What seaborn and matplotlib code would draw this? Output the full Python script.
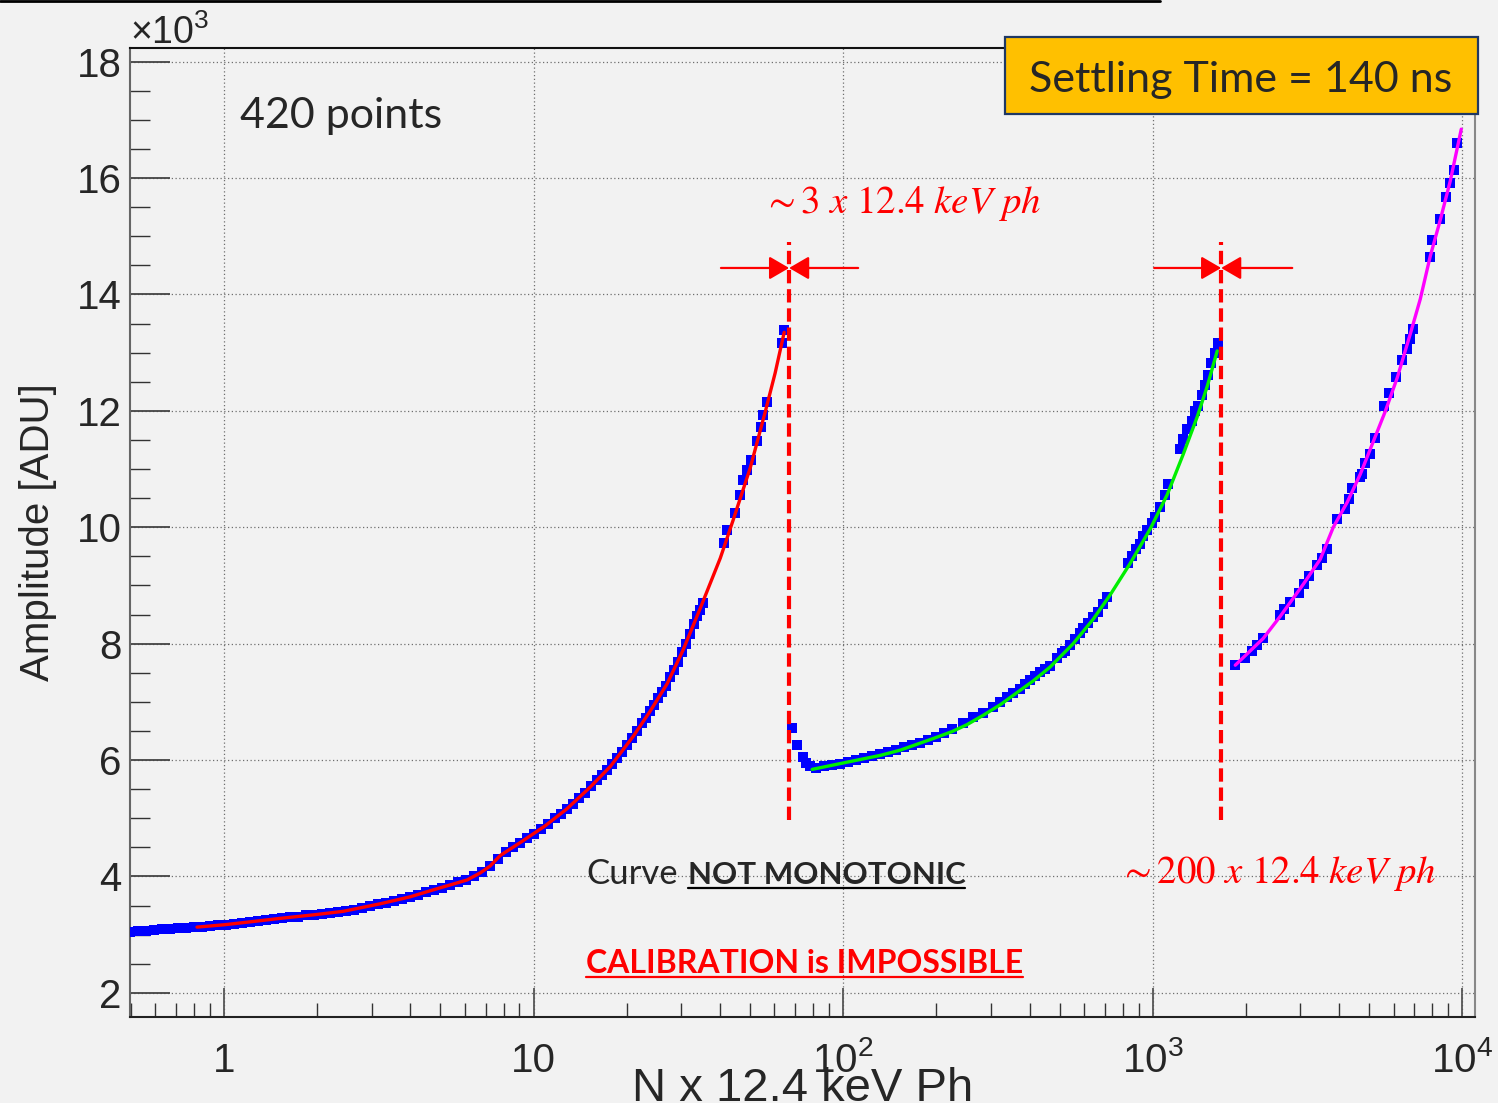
import matplotlib
matplotlib.use("Agg")
import matplotlib.pyplot as plt
from matplotlib.lines import Line2D
from matplotlib.patches import Rectangle
from matplotlib.ticker import (FixedLocator, FixedFormatter, LogLocator,
                               MultipleLocator, NullFormatter, FuncFormatter)
import pandas as pd
import seaborn as sns

sns.set_style("ticks")
plt.rcParams["font.family"] = ["Liberation Sans", "DejaVu Sans"]
plt.rcParams["mathtext.fontset"] = "custom"
plt.rcParams["mathtext.rm"] = "Liberation Sans"
plt.rcParams["mathtext.it"] = "Liberation Sans:italic"
plt.rcParams["mathtext.bf"] = "Liberation Sans:bold"

BG = "#f2f2f2"

# ---- measured points: photons (N x 12.4 keV) vs amplitude (ADU) ----
n_low = [0.497, 0.527, 0.560, 0.594, 0.630, 0.669, 0.710, 0.754, 0.800, 0.849,
         0.901, 0.956, 1.015, 1.077, 1.143, 1.213, 1.288, 1.367, 1.450, 1.539,
         1.634, 1.734, 1.840, 1.953, 2.073, 2.200, 2.335, 2.478, 2.630, 2.791,
         2.962, 3.144, 3.337, 3.541, 3.758, 3.989, 4.233, 4.493, 4.768, 5.061,
         5.371, 5.700, 6.050, 6.420, 6.814, 7.232, 7.675,
         8.15, 8.59, 9.04, 9.53, 10.04, 10.57, 11.14, 11.73, 12.27, 12.83,
         13.41, 14.03, 14.67, 15.34, 16.04, 16.65, 17.28, 17.93, 18.61, 19.32,
         20.05, 20.81, 21.60, 22.42, 23.10, 23.79, 24.51, 25.26, 26.02, 26.81,
         27.61, 28.44, 29.31, 30.19, 31.10, 32.04, 33.01, 33.75, 34.51, 35.29,
         41.26, 42.19, 44.78, 46.48, 47.53, 48.96, 50.44, 52.74, 54.34, 55.15,
         56.82, 63.53, 64.48]
adu_low = [3050, 3060, 3070, 3080, 3090, 3100, 3110, 3120, 3130, 3140,
           3150, 3160, 3170, 3190, 3200, 3220, 3230, 3250, 3270, 3280,
           3300, 3310, 3330, 3340, 3360, 3370, 3390, 3410, 3430, 3460,
           3490, 3520, 3550, 3580, 3620, 3650, 3690, 3730, 3770, 3810,
           3860, 3900, 3940, 4000, 4080, 4180, 4300,
           4420, 4500, 4580, 4660, 4730, 4820, 4910, 5000, 5080, 5160,
           5250, 5350, 5440, 5550, 5650, 5740, 5830, 5930, 6030, 6140,
           6260, 6380, 6500, 6630, 6730, 6840, 6950, 7060, 7170, 7280,
           7420, 7550, 7690, 7850, 8000, 8170, 8330, 8470, 8580, 8700,
           9730, 9950, 10240, 10550, 10810, 10980, 11160, 11480, 11720, 11930,
           12150, 13170, 13390]

n_mid = [68.4, 71.0, 74.3, 75.9, 78.2, 81.8, 86.8, 92.2, 97.8, 103.8,
         110.2, 116.9, 124.1, 131.7, 139.8, 148.4, 157.4, 167.1, 177.4, 188.2,
         199.8, 212.0, 225.0, 244.2, 263.0, 283.5, 305.3, 321.6, 338.8, 354.2,
         373.2, 387.3, 401.9, 417.2, 433.0, 449.4, 466.6, 491.5, 510.2, 521.7,
         541.4, 561.9, 583.3, 596.4, 618.9, 642.4, 666.7, 692.1, 712.9, 833.4,
         858.6, 884.6, 911.3, 931.8, 960.0, 996.3, 1018.8, 1057.3, 1097.5, 1122.2,
         1227, 1254, 1293, 1342, 1372, 1403, 1445, 1478, 1511, 1545,
         1592, 1628]
adu_mid = [6550, 6260, 6060, 5950, 5900, 5870, 5890, 5910, 5940, 5970,
           6000, 6040, 6070, 6100, 6140, 6180, 6220, 6260, 6300, 6350,
           6400, 6470, 6530, 6640, 6740, 6810, 6910, 7000, 7080, 7150,
           7220, 7300, 7380, 7450, 7520, 7570, 7620, 7750, 7840, 7880,
           7980, 8080, 8190, 8270, 8360, 8460, 8550, 8690, 8800, 9380,
           9500, 9620, 9720, 9850, 9950, 10070, 10180, 10350, 10560, 10740,
           11340, 11520, 11680, 11830, 12000, 12080, 12270, 12450, 12620, 12820,
           12990, 13170]

n_high = [1848, 1990, 2092, 2171, 2270, 2582, 2646, 2781, 2959, 3071,
          3187, 3393, 3522, 3655, 3937, 4188, 4291, 4401, 4682, 4742,
          4860, 5044, 5235, 5568, 5780, 6120, 6386, 6627, 6792, 6929,
          7842, 7984, 8491, 8878, 9100, 9374, 9613]
adu_high = [7640, 7760, 7880, 7980, 8090, 8500, 8590, 8710, 8870, 9020,
            9170, 9360, 9480, 9630, 10140, 10310, 10490, 10670, 10860, 10920,
            11110, 11260, 11540, 12090, 12300, 12580, 12870, 13070, 13240, 13410,
            14650, 14940, 15290, 15680, 15920, 16140, 16600]

# ---- fitted response of each gain range ----
fit_low_n = [0.818, 1.0, 1.213, 1.517, 1.94, 2.42, 3.19, 3.99, 4.74, 5.58,
             6.10, 6.72, 7.24, 7.80, 9.04, 10.9, 12.8, 15.2, 17.7, 21.0,
             23.8, 27.0, 30.4, 34.5, 40.1, 44.1, 50.1, 56.0, 60.3, 64.5]
fit_low_adu = [3130, 3170, 3220, 3280, 3340, 3400, 3530, 3650, 3770, 3880,
               3940, 4060, 4180, 4360, 4580, 4870, 5160, 5530, 5890, 6410,
               6840, 7310, 7890, 8600, 9470, 10120, 11020, 11980, 12650, 13350]

fit_mid_n = [79.4, 100, 131.7, 152.8, 195.4, 225.0, 251.5, 283.5, 321.6, 411.1,
             466.6, 553.5, 642.4, 729.1, 845.9, 981.5, 1114, 1254, 1393, 1500, 1616]
fit_mid_adu = [5840, 5950, 6080, 6170, 6370, 6490, 6610, 6770, 6950, 7360,
               7600, 8000, 8420, 8840, 9380, 9970, 10560, 11250, 11900, 12420, 13030]

fit_high_n = [1848, 2275, 2582, 3064, 3477, 3831, 4250, 4682, 5157, 5639,
              6166, 6792, 7317, 7883, 8491, 9146, 9926]
fit_high_adu = [7630, 8090, 8470, 9020, 9450, 10000, 10430, 10910, 11470, 11990,
                12570, 13320, 13920, 14660, 15280, 15950, 16840]

# ---- range switch positions and marker arrows ----
switch_n = [66.9, 1664]
switch_span = [4970, 14900]
arrow_level = 14455
arrow_left = [40.3, 1011]
arrow_right = [111.8, 2823]

x_major = [1, 10, 100, 1000, 10000]
x_labels = ["1", "10", r"$\mathdefault{10^{2}}$", r"$\mathdefault{10^{3}}$",
            r"$\mathdefault{10^{4}}$"]
y_major = [2000, 4000, 6000, 8000, 10000, 12000, 14000, 16000, 18000]

# ---------------------------------------------------------------------------
fig = plt.figure(figsize=(14.98, 11.03), dpi=100, facecolor=BG)
ax = fig.add_axes([0.0868, 0.078, 0.8979, 0.8785], facecolor=BG)
ax.set_xscale("log")
ax.set_xlim(0.497, 11000)
ax.set_ylim(1586, 18235)
ax.set_axisbelow(True)

points = pd.concat([
    pd.DataFrame({"n": n_low, "adu": adu_low}),
    pd.DataFrame({"n": n_mid, "adu": adu_mid}),
    pd.DataFrame({"n": n_high, "adu": adu_high}),
], ignore_index=True)
sns.scatterplot(data=points, x="n", y="adu", marker="s", s=44,
                color="#0000ff", linewidth=0, ax=ax, zorder=3, legend=False)

for fn, fa, col in [(fit_low_n, fit_low_adu, "#ff0000"),
                    (fit_mid_n, fit_mid_adu, "#00ee00"),
                    (fit_high_n, fit_high_adu, "#ff00ff")]:
    sns.lineplot(x=fn, y=fa, sort=False, estimator=None, color=col,
                 lw=2.4, ax=ax, zorder=4)

for sx in switch_n:
    ax.plot([sx, sx], switch_span, color="#ff0000", lw=3,
            linestyle=(0, (3.2, 1.4)), zorder=5, solid_capstyle="butt")
for sx, xl, xr in zip(switch_n, arrow_left, arrow_right):
    for tail in (xl, xr):
        ax.annotate("", xy=(sx, arrow_level), xytext=(tail, arrow_level),
                    arrowprops=dict(arrowstyle="-|>,head_length=0.55,head_width=0.32",
                                    color="#ff0000", lw=1.6, mutation_scale=22,
                                    shrinkA=0, shrinkB=0), zorder=5)

# axes, ticks, grid
ax.xaxis.set_major_locator(FixedLocator(x_major))
ax.xaxis.set_major_formatter(FixedFormatter(x_labels))
ax.xaxis.set_minor_locator(LogLocator(base=10, subs=[2, 3, 4, 5, 6, 7, 8, 9], numticks=20))
ax.xaxis.set_minor_formatter(NullFormatter())
ax.yaxis.set_major_locator(FixedLocator(y_major))
ax.yaxis.set_major_formatter(FuncFormatter(lambda v, p: f"{v/1000:g}"))
ax.yaxis.set_minor_locator(MultipleLocator(500))

ax.grid(True, which="major", linestyle=(0, (1, 2)), color="#6f6f6f", lw=0.9)
ax.tick_params(axis="y", which="major", direction="in", length=29, width=1.3,
               color="#444444", left=True, right=False, labelsize=29, pad=6)
ax.tick_params(axis="y", which="minor", direction="in", length=14.5, width=1.0,
               color="#333333", left=True, right=False)
ax.tick_params(axis="x", which="major", direction="in", length=21, width=1.3,
               color="#555555", bottom=True, top=False, labelsize=29, pad=39.6)
ax.tick_params(axis="x", which="minor", direction="in", length=10, width=1.0,
               color="#333333", bottom=True, top=False)
for lab in ax.get_xticklabels():
    lab.set_verticalalignment("baseline")

for side, col in [("left", "#666666"), ("bottom", "#222222"),
                  ("top", "#111111"), ("right", "#888888")]:
    ax.spines[side].set_visible(True)
    ax.spines[side].set_color(col)
    ax.spines[side].set_linewidth(1.5)

ax.set_ylabel("Amplitude [ADU]", fontsize=29)
ax.yaxis.set_label_coords(-0.054, 0.5)
ax.set_xlabel("N x 12.4 keV Ph", fontsize=34, va="baseline")
ax.xaxis.set_label_coords(0.5, -0.0867)

ax.text(0.0, 1.004, r"$\times\mathdefault{10^{3}}$", transform=ax.transAxes,
        ha="left", va="baseline", fontsize=27)

# annotations
ax.text(155, 15400, r"${\sim}3\ x\ 12.4\ keV\ ph$", color="#ff0000", fontsize=28,
        ha="center", va="baseline", math_fontfamily="stix", zorder=6)
ax.text(2525, 3890, r"${\sim}200\ x\ 12.4\ keV\ ph$", color="#ff0000", fontsize=28,
        ha="center", va="baseline", math_fontfamily="stix", zorder=6)

calib = ["Lato", "DejaVu Sans"]
fig.text(240 / 1498, 1 - 128 / 1103, "420 points", family=calib, fontsize=31,
         ha="left", va="baseline")

fig.add_artist(Rectangle((1005 / 1498, 1 - 114 / 1103), 473 / 1498, 77 / 1103,
                         transform=fig.transFigure, facecolor="#ffc000",
                         edgecolor="#1f3864", lw=1.6, zorder=10))
fig.text(1241 / 1498, 1 - 92 / 1103, "Settling Time = 140 ns", family=calib,
         fontsize=31, ha="center", va="baseline", zorder=11)

fig.add_artist(Line2D([0, 1160 / 1498], [1 - 1 / 1103, 1 - 1 / 1103],
                      transform=fig.transFigure, color="black", lw=2))

y_curve = 1 - 884 / 1103
y_calib = 1 - 973 / 1103
t_curve = fig.text(586 / 1498, y_curve, "Curve", family=calib, fontsize=25,
                   ha="left", va="baseline")
fig.canvas.draw()
renderer = fig.canvas.get_renderer()
W, H = fig.bbox.width, fig.bbox.height
bb = t_curve.get_window_extent(renderer)
t_not = fig.text((bb.x1 + 10) / W, y_curve, "NOT MONOTONIC", family=calib,
                 fontsize=22.5, weight="bold", ha="left", va="baseline")
t_cal = fig.text(586 / 1498, y_calib, "CALIBRATION is IMPOSSIBLE", family=calib,
                 fontsize=23, weight="bold", color="#ff0000", ha="left",
                 va="baseline")
fig.canvas.draw()
for t, col, yb in [(t_not, "black", y_curve), (t_cal, "#ff0000", y_calib)]:
    b = t.get_window_extent(renderer)
    yl = yb - 4 / H
    fig.add_artist(Line2D([b.x0 / W, b.x1 / W], [yl, yl], transform=fig.transFigure,
                          color=col, lw=1.6))

fig.savefig("out.png", dpi=100, facecolor=BG)
